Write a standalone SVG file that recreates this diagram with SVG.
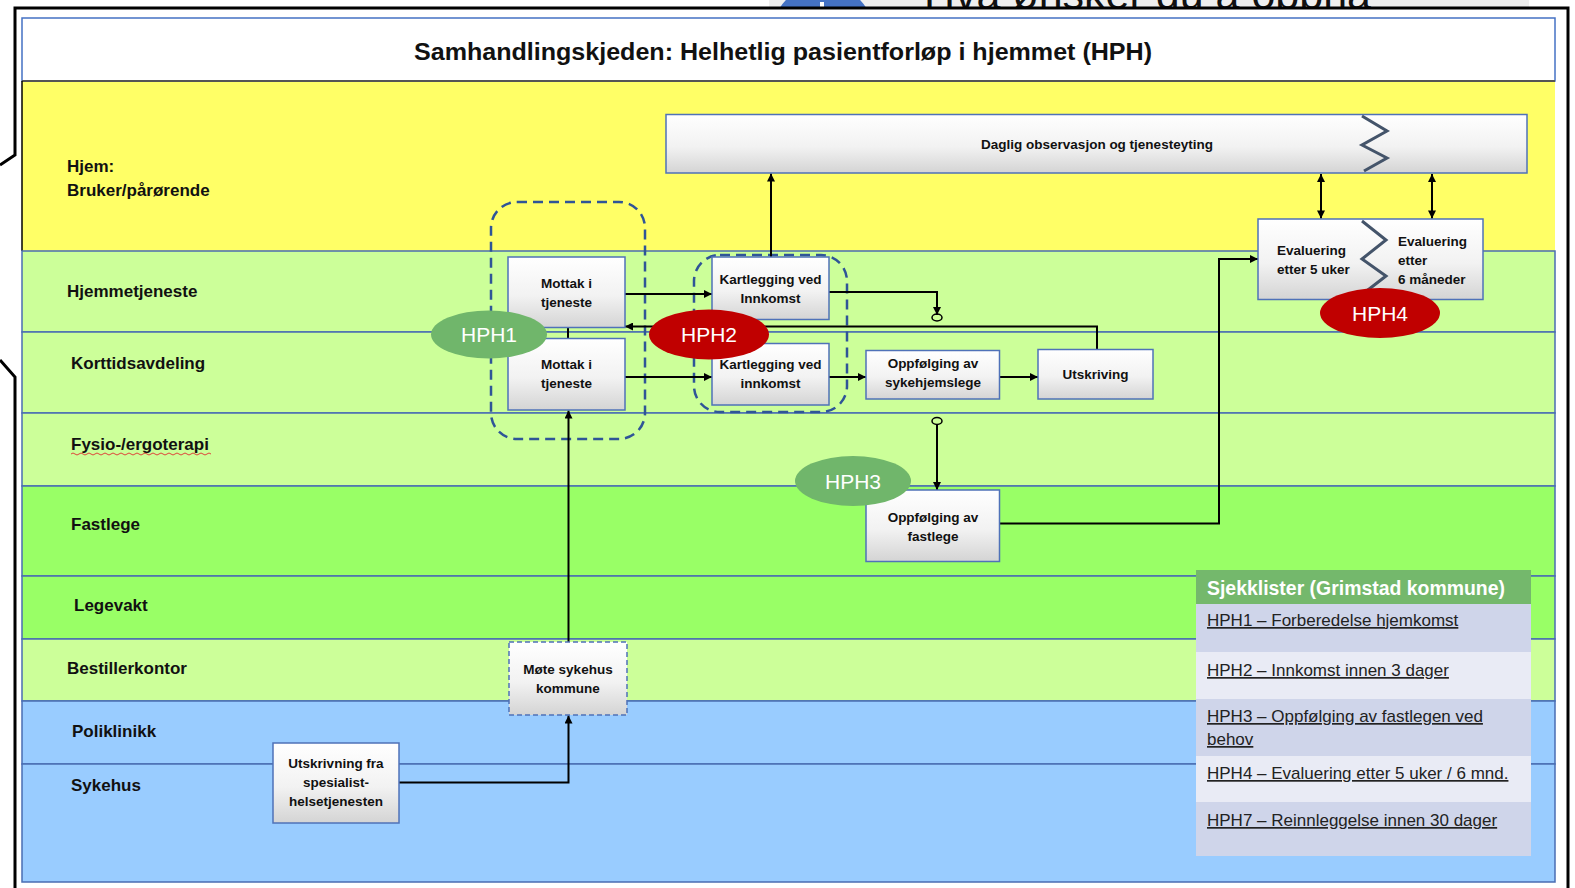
<svg xmlns="http://www.w3.org/2000/svg" width="1575" height="888" viewBox="0 0 1575 888">
<defs>
<linearGradient id="boxg" x1="0" y1="0" x2="0" y2="1">
<stop offset="0" stop-color="#ffffff"/>
<stop offset="0.55" stop-color="#f2f2f2"/>
<stop offset="1" stop-color="#d4d4d4"/>
</linearGradient>
<marker id="ah" viewBox="0 0 10 10" refX="10" refY="5" markerWidth="9" markerHeight="8" markerUnits="userSpaceOnUse" orient="auto-start-reverse">
<path d="M0,0 L10,5 L0,10 z" fill="#000"/>
</marker>
<style>
.lane{stroke:#4a6db3;stroke-width:1.5}
.lbl{font-family:"Liberation Sans",Arial,sans-serif;font-weight:bold;font-size:17px;fill:#111}
.box{fill:url(#boxg);stroke:#4f72b8;stroke-width:1.5}
.bt{font-family:"Liberation Sans",Arial,sans-serif;font-weight:bold;font-size:13.5px;fill:#111;text-anchor:middle}
.btl{font-family:"Liberation Sans",Arial,sans-serif;font-weight:bold;font-size:13.5px;fill:#111}
.grp{fill:none;stroke:#2f5597;stroke-width:2.5;stroke-dasharray:10 6}
.con{fill:none;stroke:#000;stroke-width:2}
.zig{fill:none;stroke:#44546a;stroke-width:3;stroke-linejoin:miter}
.hph{font-family:"Liberation Sans",Arial,sans-serif;font-size:21px;fill:#fff;text-anchor:middle}
.ck{font-family:"Liberation Sans",Arial,sans-serif;font-size:17px;fill:#222;text-decoration:underline}
</style>
</defs>

<!-- background slide remnant -->
<rect x="769" y="0" width="760" height="10" fill="#efefef"/>
<circle cx="823" cy="35" r="51" fill="#4472c4"/>
<path d="M820,2 L824,2 L824,8 L820,8 z" fill="#fff"/>
<text x="924" y="9" font-family="Liberation Sans,Arial,sans-serif" font-size="43" fill="#111">Hva ønsker du å oppnå</text>

<!-- outer callout frame -->
<path d="M-5,168 L15,155 L15,8 L1568,8 L1568,893 L15,893 L15,377 L-5,356 z" fill="#fff" stroke="none"/>
<path d="M0,165 L15,155 L15,8 L1568,8 L1568,888" fill="none" stroke="#000" stroke-width="3"/>
<path d="M0,360 L15,377 L15,888" fill="none" stroke="#000" stroke-width="3"/>

<!-- lanes -->
<g id="lanes">
<rect x="22" y="18" width="1533" height="63" fill="#fff" stroke="#4472c4" stroke-width="1.5"/>
<rect x="22" y="81" width="1533" height="170" fill="#ffff66" stroke="none"/>
<line x1="22" y1="81" x2="1555" y2="81" stroke="#555" stroke-width="2"/>
<line x1="22" y1="81" x2="22" y2="251" stroke="#000" stroke-width="1.5"/>
<rect class="lane" x="22" y="251" width="1533" height="81" fill="#ccff99"/>
<rect class="lane" x="22" y="332" width="1533" height="81" fill="#ccff99"/>
<rect class="lane" x="22" y="413" width="1533" height="73" fill="#ccff99"/>
<rect class="lane" x="22" y="486" width="1533" height="90" fill="#99ff66"/>
<rect class="lane" x="22" y="576" width="1533" height="63" fill="#99ff66"/>
<rect class="lane" x="22" y="639" width="1533" height="62" fill="#ccff99"/>
<rect class="lane" x="22" y="701" width="1533" height="63" fill="#99ccff"/>
<rect class="lane" x="22" y="764" width="1533" height="118" fill="#99ccff"/>
</g>

<text x="414" y="60" textLength="738" lengthAdjust="spacingAndGlyphs" font-family="Liberation Sans,Arial,sans-serif" font-weight="bold" font-size="23" fill="#111">Samhandlingskjeden: Helhetlig pasientforløp i hjemmet (HPH)</text>

<g id="lane-labels">
<text class="lbl" x="67" y="172">Hjem:</text>
<text class="lbl" x="67" y="195.5">Bruker/pårørende</text>
<text class="lbl" x="67" y="297">Hjemmetjeneste</text>
<text class="lbl" x="71" y="369">Korttidsavdeling</text>
<text class="lbl" x="71" y="449.5">Fysio-/ergoterapi</text>
<path d="M71,454 q2,-2 4,0 t4,0 t4,0 t4,0 t4,0 t4,0 t4,0 t4,0 t4,0 t4,0 t4,0 t4,0 t4,0 t4,0 t4,0 t4,0 t4,0 t4,0 t4,0 t4,0 t4,0 t4,0 t4,0 t4,0 t4,0 t4,0 t4,0 t4,0 t4,0 t4,0 t4,0 t4,0 t4,0 t4,0 t4,0" fill="none" stroke="#e03030" stroke-width="0.9"/>
<text class="lbl" x="71" y="530">Fastlege</text>
<text class="lbl" x="74" y="611">Legevakt</text>
<text class="lbl" x="67" y="673.5">Bestillerkontor</text>
<text class="lbl" x="72" y="737">Poliklinikk</text>
<text class="lbl" x="71" y="791">Sykehus</text>
</g>

<!-- dashed groups -->
<g id="group-hph1"><rect class="grp" x="491" y="202" width="154" height="237" rx="26"/></g>
<g id="group-hph2"><rect class="grp" x="694" y="255" width="153" height="157" rx="26"/></g>

<!-- connectors -->
<g id="connectors">
<line class="con" x1="625" y1="294" x2="712" y2="294" marker-end="url(#ah)"/>
<line class="con" x1="625" y1="377" x2="712" y2="377" marker-end="url(#ah)"/>
<line class="con" x1="568" y1="327" x2="568" y2="339"/>
<line class="con" x1="771" y1="257" x2="771" y2="173.5" marker-end="url(#ah)"/>
<polyline class="con" points="829,292 937,292 937,315" marker-end="url(#ah)"/>
<ellipse cx="937" cy="317.5" rx="5" ry="3.5" fill="none" stroke="#000" stroke-width="1.5"/>
<polyline class="con" points="1097,349.5 1097,326.5 625,326.5" marker-end="url(#ah)"/>
<line class="con" x1="829" y1="377" x2="866" y2="377" marker-end="url(#ah)"/>
<line class="con" x1="999.5" y1="377" x2="1038" y2="377" marker-end="url(#ah)"/>
<ellipse cx="937" cy="421" rx="5" ry="3.5" fill="none" stroke="#000" stroke-width="1.5"/>
<line class="con" x1="937" y1="424.5" x2="937" y2="490" marker-end="url(#ah)"/>
<polyline class="con" points="999.5,523.5 1219,523.5 1219,259 1258,259" marker-end="url(#ah)"/>
<line class="con" x1="1321" y1="174" x2="1321" y2="218.5" marker-start="url(#ah)" marker-end="url(#ah)"/>
<line class="con" x1="1432" y1="174" x2="1432" y2="218.5" marker-start="url(#ah)" marker-end="url(#ah)"/>
<polyline class="con" points="399,782.5 568.5,782.5 568.5,715.5" marker-end="url(#ah)"/>
<line class="con" x1="568.5" y1="642" x2="568.5" y2="410.5" marker-end="url(#ah)"/>
</g>

<!-- nodes -->
<g id="daglig">
<rect class="box" x="666" y="114.5" width="861" height="58.5"/>
<polyline class="zig" points="1362,116 1387,131 1362,145 1387,158 1364,171"/>
<text class="bt" x="1097" y="149" font-size="14">Daglig observasjon og tjenesteyting</text>
</g>
<g id="mottak-hjem">
<rect class="box" x="508" y="257" width="117" height="70.5"/>
<text class="bt" x="566.5" y="287.5">Mottak i</text>
<text class="bt" x="566.5" y="306.5">tjeneste</text>
</g>
<g id="mottak-kort">
<rect class="box" x="508" y="338.5" width="117" height="71.5"/>
<text class="bt" x="566.5" y="369">Mottak i</text>
<text class="bt" x="566.5" y="388">tjeneste</text>
</g>
<g id="kartlegging-hjem">
<rect class="box" x="712" y="257" width="117" height="62.5"/>
<text class="bt" x="770.5" y="283.5">Kartlegging ved</text>
<text class="bt" x="770.5" y="302.5">Innkomst</text>
</g>
<g id="kartlegging-kort">
<rect class="box" x="712" y="343.5" width="117" height="61.5"/>
<text class="bt" x="770.5" y="369">Kartlegging ved</text>
<text class="bt" x="770.5" y="388">innkomst</text>
</g>
<g id="oppf-sykehjemslege">
<rect class="box" x="866" y="350.5" width="133.5" height="48.5"/>
<text class="bt" x="933" y="368">Oppfølging av</text>
<text class="bt" x="933" y="387">sykehjemslege</text>
</g>
<g id="utskriving">
<rect class="box" x="1038" y="349.5" width="115" height="49.5"/>
<text class="bt" x="1095.5" y="378.5">Utskriving</text>
</g>
<g id="oppf-fastlege">
<rect class="box" x="866" y="490" width="133.5" height="71.5"/>
<text class="bt" x="933" y="521.5">Oppfølging av</text>
<text class="bt" x="933" y="540.5">fastlege</text>
</g>
<g id="evaluering">
<rect class="box" x="1258" y="219" width="225" height="80.5"/>
<polyline class="zig" points="1362,221 1386,240 1362,259 1386,276 1364,293"/>
<text class="btl" x="1277" y="254.5">Evaluering</text>
<text class="btl" x="1277" y="273.5">etter 5 uker</text>
<text class="btl" x="1398" y="245.5">Evaluering</text>
<text class="btl" x="1398" y="264.5">etter</text>
<text class="btl" x="1398" y="283.5">6 måneder</text>
</g>
<g id="mote">
<rect class="box" x="509" y="642" width="118" height="73" stroke-dasharray="5 3"/>
<text class="bt" x="568" y="673.5">Møte sykehus</text>
<text class="bt" x="568" y="692.5">kommune</text>
</g>
<g id="utskrivning-spes">
<rect class="box" x="273" y="743" width="126" height="80"/>
<text class="bt" x="336" y="767.5">Utskrivning fra</text>
<text class="bt" x="336" y="787">spesialist-</text>
<text class="bt" x="336" y="806">helsetjenesten</text>
</g>

<!-- HPH markers -->
<g id="hph1"><ellipse cx="489" cy="334.5" rx="58" ry="24" fill="#70b66b"/><text class="hph" x="489" y="342">HPH1</text></g>
<g id="hph2"><ellipse cx="709" cy="334.5" rx="60" ry="25" fill="#c00000"/><text class="hph" x="709" y="342">HPH2</text></g>
<g id="hph3"><ellipse cx="853" cy="481" rx="58" ry="25" fill="#70b66b"/><text class="hph" x="853" y="488.5">HPH3</text></g>
<g id="hph4"><ellipse cx="1380" cy="313" rx="60" ry="25" fill="#c00000"/><text class="hph" x="1380" y="320.5">HPH4</text></g>

<!-- checklist -->
<g id="sjekklister">
<rect x="1196" y="570" width="335" height="34" fill="#74b86c"/>
<rect x="1196" y="604" width="335" height="48" fill="#cfd5ea"/>
<rect x="1196" y="652" width="335" height="47" fill="#e9ebf5"/>
<rect x="1196" y="699" width="335" height="57" fill="#cfd5ea"/>
<rect x="1196" y="756" width="335" height="46" fill="#e9ebf5"/>
<rect x="1196" y="802" width="335" height="54" fill="#cfd5ea"/>
<text x="1207" y="595" textLength="298" lengthAdjust="spacingAndGlyphs" font-family="Liberation Sans,Arial,sans-serif" font-weight="bold" font-size="19.5" fill="#fff">Sjekklister (Grimstad kommune)</text>
<text class="ck" x="1207" y="626">HPH1 – Forberedelse hjemkomst</text>
<text class="ck" x="1207" y="676">HPH2 – Innkomst innen 3 dager</text>
<text class="ck" x="1207" y="722">HPH3 – Oppfølging av fastlegen ved</text>
<text class="ck" x="1207" y="745">behov</text>
<text class="ck" x="1207" y="779">HPH4 – Evaluering etter 5 uker / 6 mnd.</text>
<text class="ck" x="1207" y="826">HPH7 – Reinnleggelse innen 30 dager</text>
</g>
</svg>
